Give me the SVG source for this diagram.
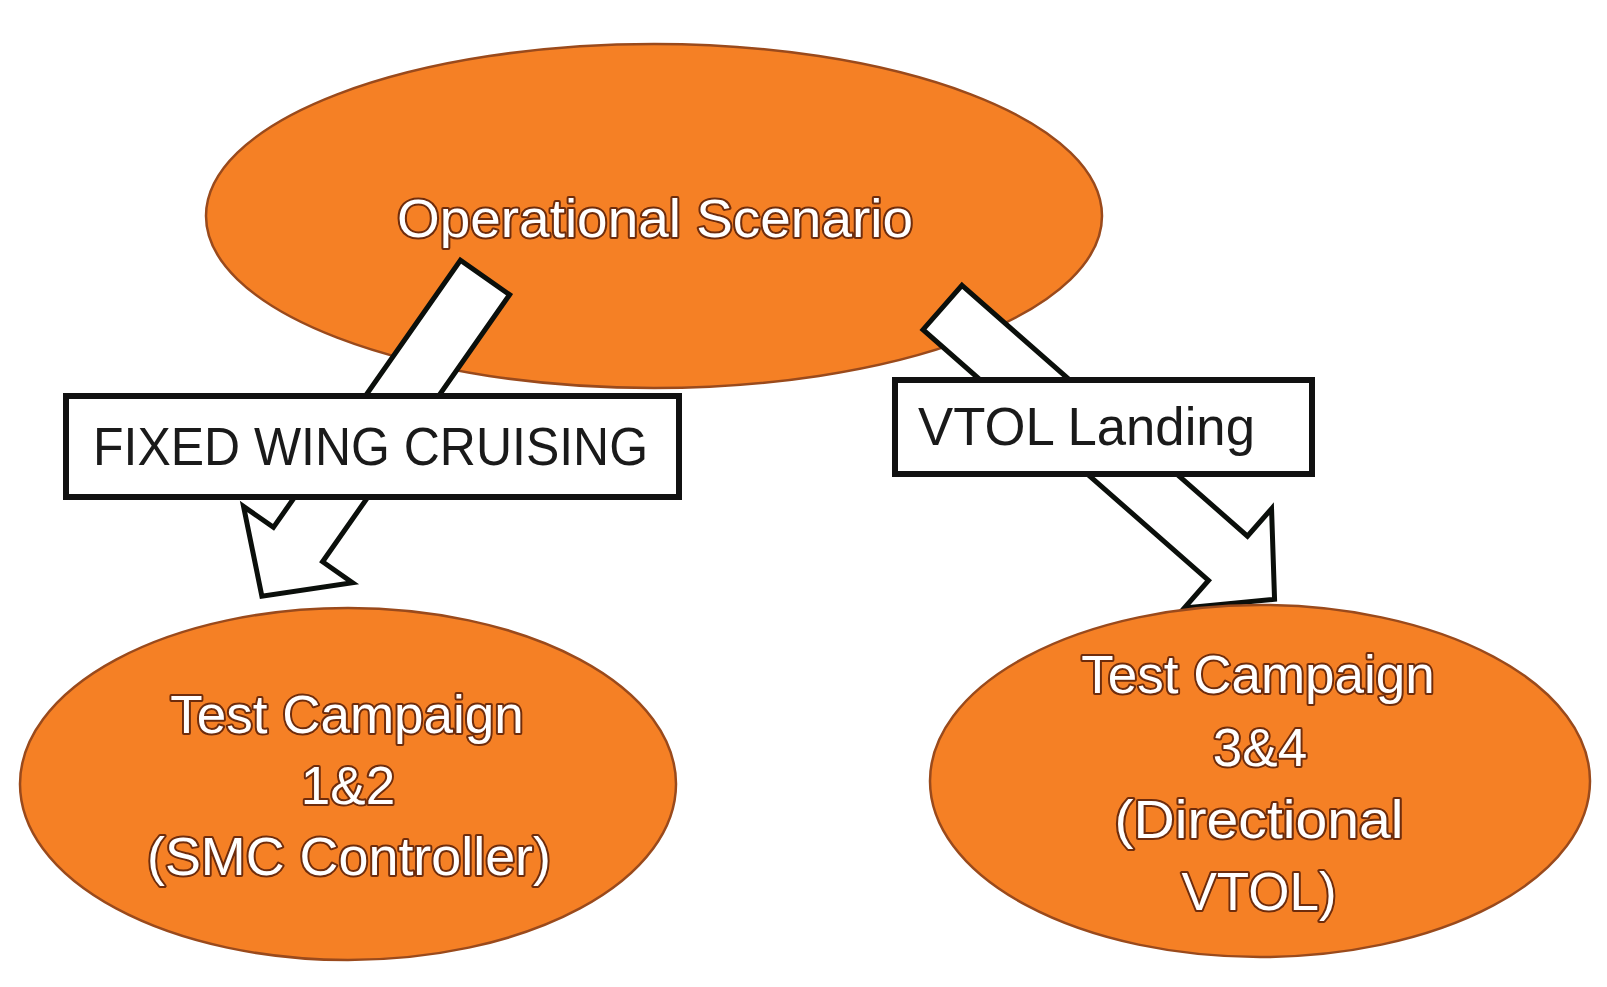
<svg xmlns="http://www.w3.org/2000/svg" width="1607" height="987" viewBox="0 0 1607 987">
  <style>
    .node { fill: #F58025; stroke: #9a4a1c; stroke-width: 2.5; }
    .ntext { font-family: "Liberation Sans", Arial, sans-serif; font-size: 53px; fill: #ffffff; stroke: #6e2c0c; stroke-width: 4; paint-order: stroke; stroke-linejoin: round; text-anchor: middle; }
    .arrow { fill: #ffffff; stroke: #0b0f0b; stroke-width: 5; stroke-linejoin: miter; }
    .lbox { fill: #ffffff; stroke: #111111; stroke-width: 6; }
    .ltext { font-family: "Liberation Sans", Arial, sans-serif; font-size: 53px; fill: #1a1a1a; }
  </style>
  <rect width="1607" height="987" fill="#ffffff"/>

  <g id="node-operational-scenario">
    <ellipse class="node" cx="654" cy="216" rx="448" ry="172"/>
    <text class="ntext" x="655" y="237" textLength="516" lengthAdjust="spacingAndGlyphs">Operational Scenario</text>
  </g>

  <g id="connectors">
    <g id="edge-fixed-wing">
      <polygon class="arrow" transform="translate(485,277.5) rotate(125)" points="0,-30 326,-30 326,-66.5 389,0 326,66.5 326,30 0,30"/>
      <rect class="lbox" x="66" y="396" width="613" height="101"/>
      <text class="ltext" x="93" y="465" textLength="555" lengthAdjust="spacingAndGlyphs">FIXED WING CRUISING</text>
    </g>
    <g id="edge-vtol-landing">
      <polygon class="arrow" transform="translate(942.5,307.5) rotate(41.3)" points="0,-29.5 380,-29.5 380,-66 442,0 380,66 380,29.5 0,29.5"/>
      <rect class="lbox" x="895" y="380" width="417" height="94"/>
      <text class="ltext" x="918" y="445" textLength="337" lengthAdjust="spacingAndGlyphs">VTOL Landing</text>
    </g>
  </g>

  <g id="node-test-campaign-1-2">
    <ellipse class="node" cx="348" cy="784" rx="328" ry="176"/>
    <text class="ntext" x="347" y="733">Test Campaign</text>
    <text class="ntext" x="348" y="804">1&amp;2</text>
    <text class="ntext" x="349" y="875" textLength="404" lengthAdjust="spacingAndGlyphs">(SMC Controller)</text>
  </g>

  <g id="node-test-campaign-3-4">
    <ellipse class="node" cx="1260" cy="781" rx="330" ry="176"/>
    <text class="ntext" x="1258" y="693">Test Campaign</text>
    <text class="ntext" x="1260" y="766">3&amp;4</text>
    <text class="ntext" x="1259" y="838" textLength="289" lengthAdjust="spacingAndGlyphs">(Directional</text>
    <text class="ntext" x="1259" y="910">VTOL)</text>
  </g>
</svg>
